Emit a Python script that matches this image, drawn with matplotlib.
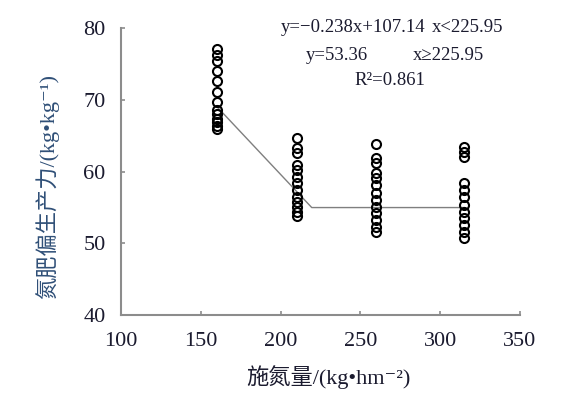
import matplotlib
matplotlib.use("Agg")
import matplotlib.pyplot as plt
import numpy as np

# 字体：西文用 Times 风格，中文回退到 Noto Sans CJK
plt.rcParams["font.family"] = ["Liberation Serif", "Noto Sans CJK SC", "DejaVu Sans"]
plt.rcParams["axes.unicode_minus"] = False

# 施氮量处理水平
n_rate = [160, 210, 260, 315]

# 各处理的氮肥偏生产力观测值
pfp_160 = [77.2, 76.3, 75.4, 74.0, 72.6, 71.2, 69.8, 68.6, 68.0, 67.4, 66.9, 66.4, 66.0]
pfp_210 = [64.7, 63.3, 62.6, 60.9, 60.2, 59.3, 58.4, 57.4, 56.5, 55.8, 55.1, 54.4, 53.8]
pfp_260 = [63.9, 61.9, 61.2, 59.8, 59.1, 58.1, 57.0, 56.0, 55.1, 54.2, 53.3, 52.3, 51.6]
pfp_315 = [63.5, 62.8, 62.1, 58.4, 57.5, 56.5, 55.3, 54.4, 53.5, 52.6, 51.6, 50.7]

# 线性加平台模型拟合线
fit_x = [160, 219.5, 315]
fit_y = [69.1, 55.0, 55.0]

xticks = [100, 150, 200, 250, 300, 350]
yticks = [40, 50, 60, 70, 80]

fig = plt.figure(figsize=(5.74, 3.94), dpi=100)
ax = fig.add_axes([0.2108, 0.2005, 0.906 - 0.2108, 0.9277 - 0.2005])

for x, ys in zip(n_rate, [pfp_160, pfp_210, pfp_260, pfp_315]):
    ax.plot([x] * len(ys), ys, linestyle="none", marker="o", markersize=6.5,
            markerfacecolor="none", markeredgecolor="black", markeredgewidth=1.5,
            zorder=3)

ax.plot(fit_x, fit_y, color="#7f7f7f", linewidth=1.0, zorder=2)

ax.set_xlim(100, 350)
ax.set_ylim(40, 80)
ax.set_xticks(xticks)
ax.set_yticks(yticks)

for side in ["top", "right"]:
    ax.spines[side].set_visible(False)
for side in ["left", "bottom"]:
    ax.spines[side].set_color("#8c8c8c")
    ax.spines[side].set_linewidth(1.5)

ax.tick_params(direction="in", length=3, width=1.2, color="#8c8c8c",
               labelsize=16, labelcolor="#1b1b2f")
ax.tick_params(axis="x", pad=12)
ax.tick_params(axis="y", pad=11)

ax.set_xlabel("施氮量/(kg•hm⁻²)", fontsize=16, color="#1b1b2f")
ax.set_ylabel("氮肥偏生产力/(kg•kg⁻¹)", fontsize=16, color="#2f4f77")
ax.xaxis.set_label_coords(0.52, -0.175)
ax.yaxis.set_label_coords(-0.155, 0.45)

# 方程注释
tk = dict(fontsize=13.5, color="#1b1b2f", va="center", clip_on=False)
ax.text(200, 80.2, "y=−0.238x+107.14", ha="left", **tk)
ax.text(295, 80.2, "x<225.95", ha="left", **tk)
ax.text(215.6, 76.2, "y=53.36", ha="left", **tk)
ax.text(283, 76.2, "x≥225.95", ha="left", **tk)
ax.text(268.75, 72.8, "R²=0.861", ha="center", **tk)

fig.savefig("out.png", dpi=100)
